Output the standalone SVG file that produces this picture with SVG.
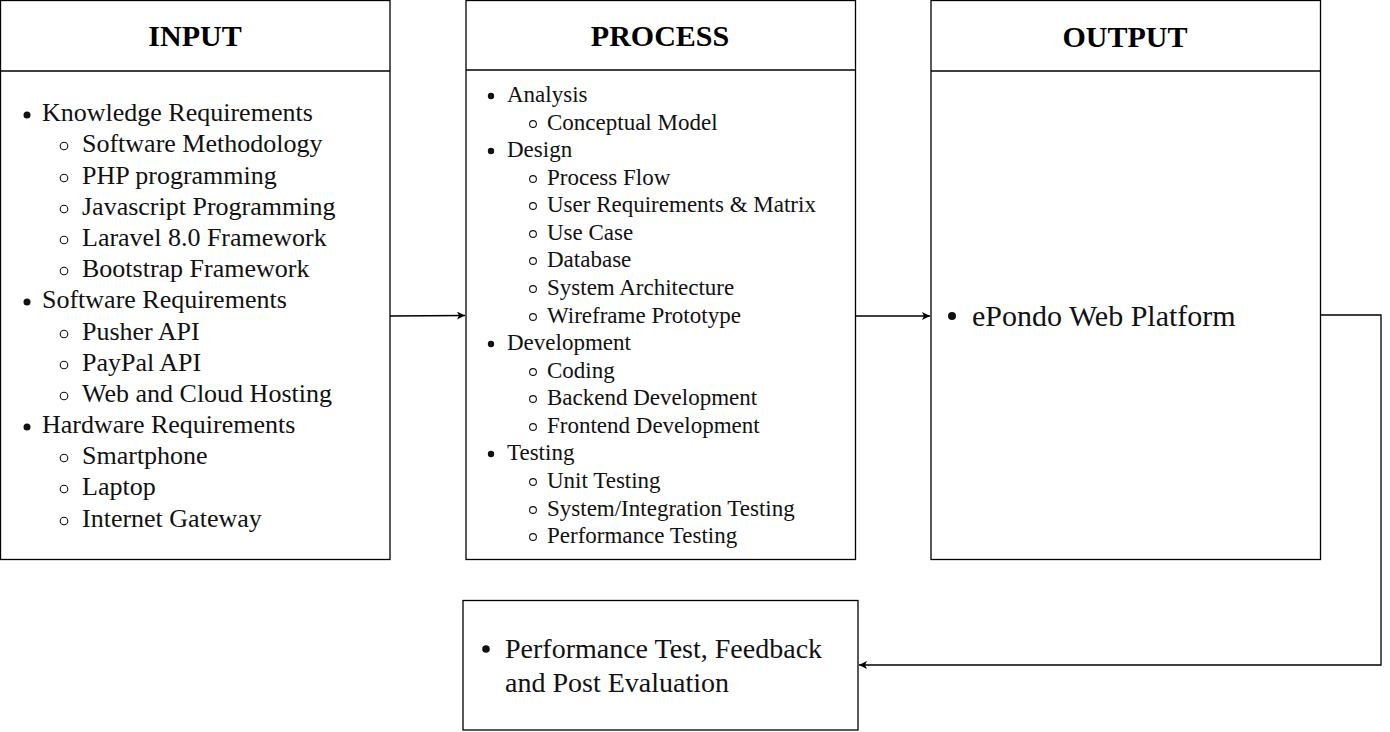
<svg xmlns="http://www.w3.org/2000/svg" width="1390" height="732" viewBox="0 0 1390 732">
<style>
.box{fill:#fff;stroke:#000;stroke-width:1.3}
.hd{font-family:"Liberation Serif",serif;font-weight:bold;font-size:30px;text-anchor:middle}
.t{font-family:"Liberation Serif",serif;fill:#111}
.in{font-size:26px}
.pr{font-size:23px}
.c{fill:none;stroke:#000;stroke-width:1.3}
.hol{fill:none;stroke:#111;stroke-width:1.1}
</style>
<defs>
<marker id="arr" viewBox="0 0 10 10" refX="10" refY="5" markerWidth="8" markerHeight="8" orient="auto" markerUnits="userSpaceOnUse"><path d="M0,0 L10,5 L0,10 L2.5,5 Z" fill="#000"/></marker>
</defs>
<g id="input">
<rect class="box" x="0.5" y="0.5" width="389.5" height="559"/>
<line class="c" x1="0.5" y1="71" x2="390" y2="71"/>
<text class="hd" x="195" y="46">INPUT</text>
<g class="t in">
<circle cx="27" cy="115" r="3.5"/><text x="42" y="121">Knowledge Requirements</text>
<circle class="hol" cx="64" cy="146" r="3.8"/><text x="82" y="152">Software Methodology</text>
<circle class="hol" cx="64" cy="178" r="3.8"/><text x="82" y="184">PHP programming</text>
<circle class="hol" cx="64" cy="209" r="3.8"/><text x="82" y="215">Javascript Programming</text>
<circle class="hol" cx="64" cy="240" r="3.8"/><text x="82" y="246">Laravel 8.0 Framework</text>
<circle class="hol" cx="64" cy="271" r="3.8"/><text x="82" y="277">Bootstrap Framework</text>
<circle cx="27" cy="302" r="3.5"/><text x="42" y="308">Software Requirements</text>
<circle class="hol" cx="64" cy="334" r="3.8"/><text x="82" y="340">Pusher API</text>
<circle class="hol" cx="64" cy="365" r="3.8"/><text x="82" y="371">PayPal API</text>
<circle class="hol" cx="64" cy="396" r="3.8"/><text x="82" y="402">Web and Cloud Hosting</text>
<circle cx="27" cy="427" r="3.5"/><text x="42" y="433">Hardware Requirements</text>
<circle class="hol" cx="64" cy="458" r="3.8"/><text x="82" y="464">Smartphone</text>
<circle class="hol" cx="64" cy="489" r="3.8"/><text x="82" y="495">Laptop</text>
<circle class="hol" cx="64" cy="521" r="3.8"/><text x="82" y="527">Internet Gateway</text>
</g>
</g>
<g id="process">
<rect class="box" x="466" y="0.5" width="389.5" height="559"/>
<line class="c" x1="466" y1="70" x2="855.5" y2="70"/>
<text class="hd" x="660" y="46">PROCESS</text>
<g class="t pr">
<circle cx="491" cy="96" r="3.2"/><text x="507" y="102">Analysis</text>
<circle class="hol" cx="533" cy="124" r="3.4"/><text x="547" y="130">Conceptual Model</text>
<circle cx="491" cy="151" r="3.2"/><text x="507" y="157">Design</text>
<circle class="hol" cx="533" cy="179" r="3.4"/><text x="547" y="185">Process Flow</text>
<circle class="hol" cx="533" cy="206" r="3.4"/><text x="547" y="212">User Requirements &amp; Matrix</text>
<circle class="hol" cx="533" cy="234" r="3.4"/><text x="547" y="240">Use Case</text>
<circle class="hol" cx="533" cy="261" r="3.4"/><text x="547" y="267">Database</text>
<circle class="hol" cx="533" cy="289" r="3.4"/><text x="547" y="295">System Architecture</text>
<circle class="hol" cx="533" cy="317" r="3.4"/><text x="547" y="323">Wireframe Prototype</text>
<circle cx="491" cy="344" r="3.2"/><text x="507" y="350">Development</text>
<circle class="hol" cx="533" cy="372" r="3.4"/><text x="547" y="378">Coding</text>
<circle class="hol" cx="533" cy="399" r="3.4"/><text x="547" y="405">Backend Development</text>
<circle class="hol" cx="533" cy="427" r="3.4"/><text x="547" y="433">Frontend Development</text>
<circle cx="491" cy="454" r="3.2"/><text x="507" y="460">Testing</text>
<circle class="hol" cx="533" cy="482" r="3.4"/><text x="547" y="488">Unit Testing</text>
<circle class="hol" cx="533" cy="510" r="3.4"/><text x="547" y="516">System/Integration Testing</text>
<circle class="hol" cx="533" cy="537" r="3.4"/><text x="547" y="543">Performance Testing</text>
</g>
</g>
<g id="output">
<rect class="box" x="931" y="0.5" width="389.5" height="559"/>
<line class="c" x1="931" y1="71" x2="1320.5" y2="71"/>
<text class="hd" x="1125" y="47">OUTPUT</text>
<g class="t">
<circle cx="952" cy="316" r="4"/><text x="972" y="326" font-size="30">ePondo Web Platform</text>
</g>
</g>
<g id="evaluation">
<rect class="box" x="463" y="600.5" width="395" height="129.5"/>
<g class="t" font-size="28">
<circle cx="486" cy="649" r="3.8"/><text x="505" y="658">Performance Test, Feedback</text>
<text x="505" y="692">and Post Evaluation</text>
</g>
</g>
<g id="connectors">
<path class="c" d="M390,316 L465,315.5" marker-end="url(#arr)"/>
<path class="c" d="M856,316 L930,316" marker-end="url(#arr)"/>
<path class="c" d="M1321,315 L1381,315 L1381,665 L859,665" marker-end="url(#arr)"/>
</g>
</svg>
